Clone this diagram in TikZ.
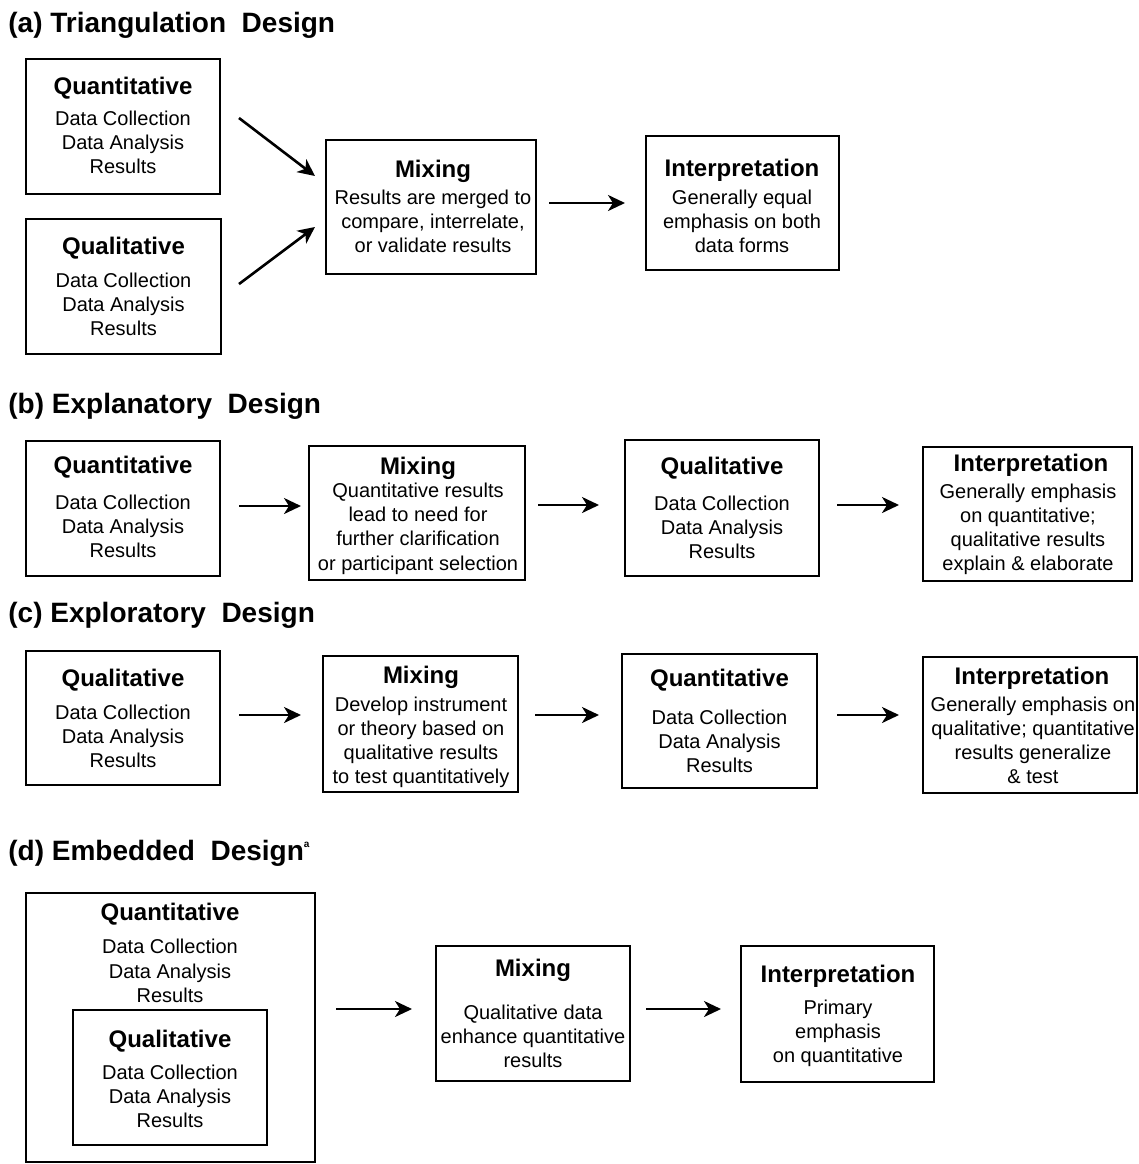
\documentclass[tikz,border=0pt]{standalone}
\usepackage{fontspec}
\setmainfont{Liberation Sans}
\usetikzlibrary{arrows.meta,calc}
\tikzset{
  box/.style={draw, line width=1pt, inner sep=0pt, rectangle},
  head/.style={font=\fontsize{12}{14}\selectfont\bfseries, anchor=base, yshift=-4.3pt, inner sep=0pt},
  body/.style={font=\fontsize{10}{12}\selectfont, anchor=base, yshift=-3.6pt, inner sep=0pt},
  ttl/.style={font=\fontsize{14}{16}\selectfont\bfseries, anchor=base west, yshift=-5pt, inner sep=0pt},
  arr/.style={line width=1.3pt, -{Stealth[length=8.5pt,width=8pt,inset=2.5pt]}}
}
\begin{document}
\begin{tikzpicture}[x=0.5pt,y=-0.5pt]
\useasboundingbox (0,0) rectangle (1139,1164);

% ---------- (a) ----------
\node[ttl] (ta) at (8,22) {(a) Triangulation\ \ Design};
\node[box, minimum width=97pt, minimum height=67.5pt] (qa) at (123,126.5) {};
\node[head] (qa0) at (123,86) {Quantitative};
\node[body] (qa1) at (123,118) {Data Collection};
\node[body] (qa2) at (123,142) {Data Analysis};
\node[body] (qa3) at (123,166) {Results};

\node[box, minimum width=97.5pt, minimum height=67.5pt] (qla) at (123.5,286.5) {};
\node[head] (qla0) at (123.5,246) {Qualitative};
\node[body] (qla1) at (123.5,280) {Data Collection};
\node[body] (qla2) at (123.5,304) {Data Analysis};
\node[body] (qla3) at (123.5,328) {Results};

\node[box, minimum width=105pt, minimum height=67pt] (mixa) at (431,207) {};
\node[head] (mixa0) at (433,169) {Mixing};
\node[body] (mixa1) at (433,197) {Results are merged to};
\node[body] (mixa2) at (433,221) {compare, interrelate,};
\node[body] (mixa3) at (433,245) {or validate results};

\node[box, minimum width=96.5pt, minimum height=67pt] (inta) at (742.5,203) {};
\node[head] (inta0) at (742,168) {Interpretation};
\node[body] (inta1) at (742,197) {Generally equal};
\node[body] (inta2) at (742,221) {emphasis on both};
\node[body] (inta3) at (742,245) {data forms};

\draw[arr] ($(qa.east)+(18,-8.5)$) -- ($(mixa.west)+(-10,-31)$);
\draw[arr] ($(qla.east)+(17,-2.5)$) -- ($(mixa.west)+(-10,20)$);
\draw[arr] ($(mixa.east)+(12,-4)$) -- ($(inta.west)+(-20,0)$);

% ---------- (b) ----------
\node[ttl] (tb) at (8,403) {(b) Explanatory\ \ Design};
\node[box, minimum width=97pt, minimum height=67.5pt] (qb) at (123,508.5) {};
\node[head] (qb0) at (123,465) {Quantitative};
\node[body] (qb1) at (123,502) {Data Collection};
\node[body] (qb2) at (123,526) {Data Analysis};
\node[body] (qb3) at (123,550) {Results};

\node[box, minimum width=108pt, minimum height=67pt] (mixb) at (417,513) {};
\node[head] (mixb0) at (418,466) {Mixing};
\node[body] (mixb1) at (418,490) {Quantitative results};
\node[body] (mixb2) at (418,514) {lead to need for};
\node[body] (mixb3) at (418,538) {further clarification};
\node[body] (mixb4) at (418,563) {or participant selection};

\node[box, minimum width=97pt, minimum height=68pt] (qlb) at (722,508) {};
\node[head] (qlb0) at (722,466) {Qualitative};
\node[body] (qlb1) at (722,503) {Data Collection};
\node[body] (qlb2) at (722,527) {Data Analysis};
\node[body] (qlb3) at (722,551) {Results};

\node[box, minimum width=104.5pt, minimum height=67pt] (intb) at (1027.5,514) {};
\node[head] (intb0) at (1031,463) {Interpretation};
\node[body] (intb1) at (1028,491) {Generally emphasis};
\node[body] (intb2) at (1028,515) {on quantitative;};
\node[body] (intb3) at (1028,539) {qualitative results};
\node[body] (intb4) at (1028,563) {explain \& elaborate};

\draw[arr] ($(qb.east)+(18,-2.5)$) -- ($(mixb.west)+(-7,-7)$);
\draw[arr] ($(mixb.east)+(12,-8)$) -- ($(qlb.west)+(-25,-3)$);
\draw[arr] ($(qlb.east)+(17,-3)$) -- ($(intb.west)+(-23,-9)$);

% ---------- (c) ----------
\node[ttl] (tc) at (8,612) {(c) Exploratory\ \ Design};
\node[box, minimum width=97pt, minimum height=67pt] (qlc) at (123,718) {};
\node[head] (qlc0) at (123,678) {Qualitative};
\node[body] (qlc1) at (123,712) {Data Collection};
\node[body] (qlc2) at (123,736) {Data Analysis};
\node[body] (qlc3) at (123,760) {Results};

\node[box, minimum width=97.5pt, minimum height=68pt] (mixc) at (420.5,724) {};
\node[head] (mixc0) at (421,675) {Mixing};
\node[body] (mixc1) at (421,704) {Develop instrument};
\node[body] (mixc2) at (421,728) {or theory based on};
\node[body] (mixc3) at (421,752) {qualitative results};
\node[body] (mixc4) at (421,776) {to test quantitatively};

\node[box, minimum width=97.5pt, minimum height=67pt] (qc) at (719.5,721) {};
\node[head] (qc0) at (719.5,678) {Quantitative};
\node[body] (qc1) at (719.5,717) {Data Collection};
\node[body] (qc2) at (719.5,741) {Data Analysis};
\node[body] (qc3) at (719.5,765) {Results};

\node[box, minimum width=107pt, minimum height=68pt] (intc) at (1030,725) {};
\node[head] (intc0) at (1032,676) {Interpretation};
\node[body] (intc1) at (1033,704) {Generally emphasis on};
\node[body] (intc2) at (1033,728) {qualitative; quantitative};
\node[body] (intc3) at (1033,752) {results generalize};
\node[body] (intc4) at (1033,776) {\& test};

\draw[arr] ($(qlc.east)+(18,-3)$) -- ($(mixc.west)+(-21,-9)$);
\draw[arr] ($(mixc.east)+(16,-9)$) -- ($(qc.west)+(-22,-6)$);
\draw[arr] ($(qc.east)+(19,-6)$) -- ($(intc.west)+(-23,-10)$);

% ---------- (d) ----------
\node[ttl] (td) at (8,850) {(d) Embedded\ \ Design{\fontsize{5}{5}\selectfont\raisebox{6.5pt}{a}}};
\node[box, minimum width=144.5pt, minimum height=134.5pt] (qd) at (170.5,1027.5) {};
\node[head] (qd0) at (170,912) {Quantitative};
\node[body] (qd1) at (170,946) {Data Collection};
\node[body] (qd2) at (170,971) {Data Analysis};
\node[body] (qd3) at (170,995) {Results};

\node[box, minimum width=97pt, minimum height=67.5pt] (qld) at (170,1077.5) {};
\node[head] (qld0) at (170,1039) {Qualitative};
\node[body] (qld1) at (170,1072) {Data Collection};
\node[body] (qld2) at (170,1096) {Data Analysis};
\node[body] (qld3) at (170,1120) {Results};

\node[box, minimum width=97pt, minimum height=67.5pt] (mixd) at (533,1013.5) {};
\node[head] (mixd0) at (533,968) {Mixing};
\node[body] (mixd1) at (533,1012) {Qualitative data};
\node[body] (mixd2) at (533,1036) {enhance quantitative};
\node[body] (mixd3) at (533,1060) {results};

\node[box, minimum width=96.5pt, minimum height=68pt] (intd) at (837.5,1014) {};
\node[head] (intd0) at (838,974) {Interpretation};
\node[body] (intd1) at (838,1007) {Primary};
\node[body] (intd2) at (838,1031) {emphasis};
\node[body] (intd3) at (838,1055) {on quantitative};

\draw[arr] ($(qd.east)+(20,-18.5)$) -- ($(mixd.west)+(-23,-4.5)$);
\draw[arr] ($(mixd.east)+(15,-4.5)$) -- ($(intd.west)+(-19,-5)$);
\end{tikzpicture}
\end{document}
